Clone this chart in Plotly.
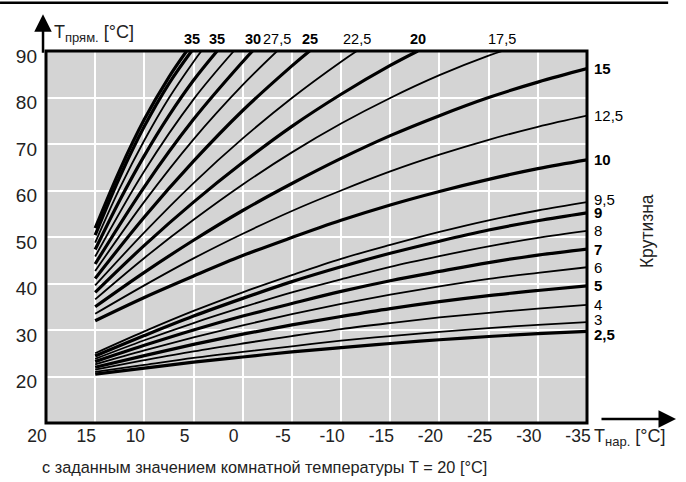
import plotly.graph_objects as go

# outdoor temperature points used for the curves that reach the right edge
OUTDOOR = [15, 10, 5, 0, -5, -10, -15, -20, -25, -30, -35]

# flow temperature for curves ending on the right side
SLOPE_2_5 = [20.5, 21.8, 23.1, 24.2, 25.3, 26.2, 27.1, 27.9, 28.6, 29.2, 29.7]
SLOPE_3 = [21.0, 22.5, 24.0, 25.3, 26.5, 27.7, 28.7, 29.6, 30.4, 31.1, 31.7]
SLOPE_4 = [21.5, 23.5, 25.4, 27.1, 28.7, 30.2, 31.5, 32.7, 33.7, 34.6, 35.4]
SLOPE_5 = [22.0, 24.5, 26.9, 29.1, 31.1, 32.9, 34.6, 36.1, 37.4, 38.5, 39.5]
SLOPE_6 = [22.6, 25.6, 28.4, 31.0, 33.4, 35.6, 37.6, 39.4, 41.0, 42.3, 43.5]
SLOPE_7 = [23.2, 26.7, 30.0, 33.0, 35.7, 38.3, 40.6, 42.6, 44.5, 46.1, 47.4]
SLOPE_8 = [23.8, 27.8, 31.5, 34.9, 38.1, 40.9, 43.6, 45.9, 48.0, 49.8, 51.3]
SLOPE_9 = [24.4, 28.8, 33.0, 36.8, 40.4, 43.6, 46.5, 49.1, 51.5, 53.5, 55.2]
SLOPE_9_5 = [25.0, 29.7, 34.1, 38.1, 41.8, 45.3, 48.3, 51.1, 53.6, 55.7, 57.5]
SLOPE_10 = [32.0, 37.0, 41.6, 46.0, 49.9, 53.6, 56.9, 59.8, 62.4, 64.7, 66.6]
SLOPE_12_5 = [33.5, 39.6, 45.4, 50.7, 55.6, 60.0, 64.1, 67.7, 70.9, 73.7, 76.1]
SLOPE_15 = [35.0, 42.4, 49.3, 55.7, 61.5, 66.9, 71.8, 76.1, 80.0, 83.3, 86.2]

# curves leaving through the top edge (own outdoor points, last one = top crossing)
SLOPE_17_5_X = [15, 10, 5, 0, -5, -10, -15, -20, -25, -26.4]
SLOPE_17_5 = [36.6, 45.5, 53.7, 61.3, 68.2, 74.4, 79.9, 84.8, 89.0, 90]
SLOPE_20_X = [15, 10, 5, 0, -5, -10, -15, -17.8]
SLOPE_20 = [38.1, 48.2, 57.5, 66.0, 73.8, 80.7, 86.9, 90]
SLOPE_22_5_X = [15, 10, 5, 0, -5, -10, -11.6]
SLOPE_22_5 = [39.6, 51.0, 61.6, 71.2, 79.9, 87.7, 90]
SLOPE_25_X = [15, 10, 5, 0, -5, -6.8]
SLOPE_25 = [41.1, 54.3, 66.3, 77.2, 86.8, 90]
SLOPE_27_5_X = [15, 10, 5, 0, -3.5]
SLOPE_27_5 = [42.7, 57.6, 71.0, 82.7, 90]
SLOPE_30_X = [15, 10, 5, 0, -1.0]
SLOPE_30 = [44.2, 60.8, 75.3, 87.7, 90]
SLOPE_32_X = [15, 10, 5, 0.9]
SLOPE_32 = [45.8, 64.2, 79.6, 90]
SLOPE_35A_X = [15, 12.5, 10, 7.5, 5, 2.6]
SLOPE_35A = [47.3, 57.9, 67.5, 76.1, 83.7, 90]
SLOPE_34_X = [15, 12.5, 10, 7.5, 5, 4.2]
SLOPE_34 = [48.8, 60.5, 70.8, 79.9, 87.7, 90]
SLOPE_35B_X = [15, 12.5, 10, 7.5, 5.2]
SLOPE_35B = [50.4, 62.9, 73.8, 83.0, 90]
SLOPE_35C_X = [15, 12.5, 10, 7.5, 5.7]
SLOPE_35C = [51.9, 64.4, 75.3, 84.4, 90]

X_TICKS = [20, 15, 10, 5, 0, -5, -10, -15, -20, -25, -30, -35]
Y_TICKS = [20, 30, 40, 50, 60, 70, 80, 90]

# (label, x, y, bold)
CURVES = [
    ("2,5", OUTDOOR, SLOPE_2_5, True),
    ("3", OUTDOOR, SLOPE_3, False),
    ("4", OUTDOOR, SLOPE_4, False),
    ("5", OUTDOOR, SLOPE_5, True),
    ("6", OUTDOOR, SLOPE_6, False),
    ("7", OUTDOOR, SLOPE_7, True),
    ("8", OUTDOOR, SLOPE_8, False),
    ("9", OUTDOOR, SLOPE_9, True),
    ("9,5", OUTDOOR, SLOPE_9_5, False),
    ("10", OUTDOOR, SLOPE_10, True),
    ("12,5", OUTDOOR, SLOPE_12_5, False),
    ("15", OUTDOOR, SLOPE_15, True),
    ("17,5", SLOPE_17_5_X, SLOPE_17_5, False),
    ("20", SLOPE_20_X, SLOPE_20, True),
    ("22,5", SLOPE_22_5_X, SLOPE_22_5, False),
    ("25", SLOPE_25_X, SLOPE_25, True),
    ("27,5", SLOPE_27_5_X, SLOPE_27_5, False),
    ("30", SLOPE_30_X, SLOPE_30, True),
    ("", SLOPE_32_X, SLOPE_32, False),
    ("35", SLOPE_35A_X, SLOPE_35A, True),
    ("", SLOPE_34_X, SLOPE_34, False),
    ("35", SLOPE_35B_X, SLOPE_35B, True),
    ("", SLOPE_35C_X, SLOPE_35C, True),
]

LABEL_NUDGE = {"9,5": 3, "3": 3, "2,5": -3}

FONT = "Liberation Sans, Arial, sans-serif"
INK = "#222222"
SUB = '<sub><span style="font-size:13px">{}</span></sub>'

fig = go.Figure()
annotations = []
for label, xs, ys, bold in CURVES:
    fig.add_trace(go.Scatter(
        x=xs, y=ys, mode="lines",
        line=dict(color="black", width=3.2 if bold else 1.8, shape="spline", smoothing=1.0),
        hoverinfo="skip", showlegend=False,
    ))
    if not label:
        continue
    txt = f"<b>{label}</b>" if bold else label
    if ys[-1] < 90:
        annotations.append(dict(
            x=xs[-1], y=ys[-1], xref="x", yref="y", text=txt, showarrow=False,
            xanchor="left", yanchor="middle", xshift=5, yshift=LABEL_NUDGE.get(label, 0),
            font=dict(size=15, color="black", family=FONT),
        ))
    else:
        annotations.append(dict(
            x=xs[-1], y=90, xref="x", yref="y", text=txt, showarrow=False,
            xanchor="center", yanchor="middle", yshift=12,
            font=dict(size=14.5, color="black", family=FONT),
        ))

# axis titles, arrows, caption
annotations += [
    dict(x=0.011, y=1.048, xref="paper", yref="paper", xanchor="left", yanchor="middle",
         text="T" + SUB.format("прям.") + " [°C]", showarrow=False,
         font=dict(size=18, color=INK, family=FONT)),
    dict(x=1.01, y=-0.038, xref="paper", yref="paper", xanchor="left", yanchor="middle",
         text="T" + SUB.format("нар.") + " [°C]", showarrow=False,
         font=dict(size=18, color=INK, family=FONT)),
    dict(x=1.111, y=0.516, xref="paper", yref="paper", xanchor="center", yanchor="middle",
         textangle=-90, text="Крутизна", showarrow=False,
         font=dict(size=17.5, color=INK, family=FONT)),
    dict(x=-0.011, y=-0.118, xref="paper", yref="paper", xanchor="left", yanchor="middle",
         text="с заданным значением комнатной температуры T = 20 [°C]", showarrow=False,
         font=dict(size=16.3, color=INK, family=FONT)),
    dict(x=-0.0055, y=1.099, xref="paper", yref="paper", ax=0, ay=40, text="",
         showarrow=True, arrowhead=2, arrowsize=1.4, arrowwidth=2.5, arrowcolor="black"),
    dict(x=1.1645, y=0.011, xref="paper", yref="paper", ax=-76, ay=0, text="",
         showarrow=True, arrowhead=2, arrowsize=1.4, arrowwidth=2.5, arrowcolor="black"),
]

fig.update_layout(
    width=686, height=482,
    margin=dict(l=46, r=99, t=51, b=59),
    plot_bgcolor="#d4d4d4", paper_bgcolor="white",
    font=dict(family=FONT, color=INK, size=17),
    annotations=annotations,
    shapes=[
        dict(type="rect", xref="paper", yref="paper", x0=0, x1=1, y0=0, y1=1,
             line=dict(color="black", width=3), layer="above"),
        # thin rule across the top of the figure
        dict(type="line", xref="paper", yref="paper", x0=-0.085, x1=1.15, y0=1.130, y1=1.130,
             line=dict(color="black", width=2.5), layer="below"),
    ],
    xaxis=dict(
        range=[20, -35], tickvals=X_TICKS, ticktext=[str(v) for v in X_TICKS],
        showgrid=True, gridcolor="white", gridwidth=2, zeroline=False, showline=False,
        tickfont=dict(size=17.5, color=INK), ticklabelshift=9, automargin=False,
    ),
    yaxis=dict(
        range=[10, 90], tickvals=Y_TICKS, ticktext=[str(v) for v in Y_TICKS],
        showgrid=True, gridcolor="white", gridwidth=2, zeroline=False, showline=False,
        tickfont=dict(size=19, color=INK), ticklabelshift=5, ticklabelstandoff=8,
        automargin=False,
    ),
)

fig.write_html("out.html", config={"displayModeBar": False},
               post_script="document.body.style.margin='0';")
